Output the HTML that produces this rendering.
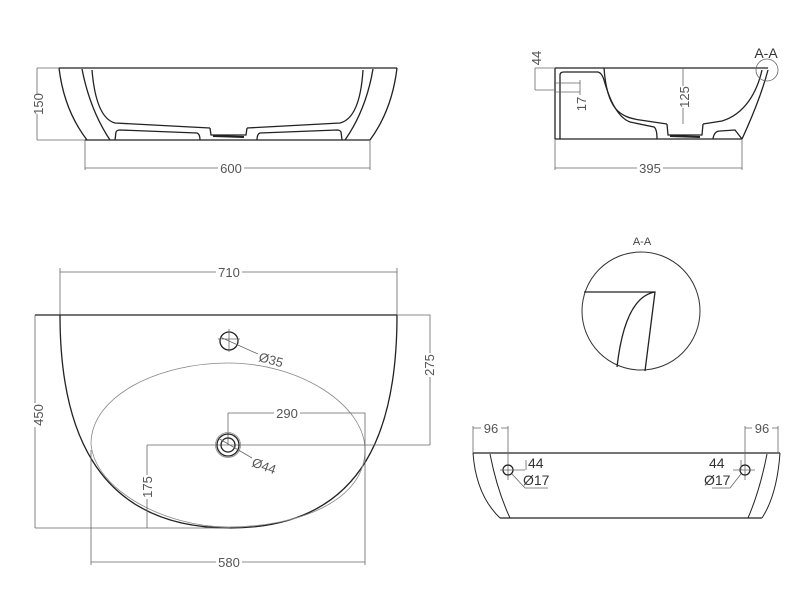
<!DOCTYPE html>
<html><head><meta charset="utf-8"><style>
html,body{margin:0;padding:0;background:#fff;width:799px;height:600px;overflow:hidden}
svg{display:block}
text{font-family:"Liberation Sans Narrow","Liberation Sans",sans-serif;font-size:13px;fill:#555}
.k{stroke:#222;stroke-width:1.3;fill:none}
.d{stroke:#666;stroke-width:0.8;fill:none}
.t{stroke:#888;stroke-width:0.8;fill:none}
</style></head><body>
<svg width="799" height="600" viewBox="0 0 799 600">
<!-- Top-left side view -->
<line class="k" x1="59" y1="68" x2="397" y2="68"/>
<line class="k" x1="85" y1="140" x2="370" y2="140"/>
<path class="k" d="M59,68 Q64,110 87,140"/>
<path class="k" d="M82,69 Q90,110 110,140"/>
<path class="k" d="M92,70 Q96,118 115,123 L210,128 M247,128 L340,123 Q360,118 363,70"/>
<path class="k" d="M210,128 L211,135 L246,135 L247,128"/>
<path class="k" d="M213,136 L244,137" style="stroke-width:2"/>
<path class="k" d="M115,140 L116,132 Q117,130 120,130 L197,133 Q200,134 200,140"/>
<path class="k" d="M257,140 Q257,134 260,133 L337,130 Q340,130 341,132 L342,140"/>
<path class="k" d="M397,68 Q392,110 370,140"/>
<path class="k" d="M373,69 Q366,110 345,140"/>
<path class="d" d="M37,68 H59 M37,140 H85 M37,68 V140 M85,140 V170 M370,140 V170 M85,168 H370"/>
<rect x="218" y="161" width="26" height="13" fill="#fff"/>
<text x="231" y="173" text-anchor="middle">600</text>
<rect x="33" y="94" width="10" height="20" fill="#fff"/>
<text transform="translate(43,104) rotate(-90)" text-anchor="middle">150</text>

<!-- Top-right section -->
<line class="k" x1="555" y1="68" x2="768" y2="68"/>
<line class="k" x1="555" y1="139" x2="742" y2="139"/>
<line class="k" x1="555" y1="68" x2="555" y2="139"/>
<path class="k" d="M560,139 V75 Q560,72 564,72 L598,72 Q602,73 604,80 Q614,116 630,122 L654,127 Q657,129 657,139"/>
<path class="k" d="M604,68 C607,110 620,117 640,120 L667,124 M703,124 L722,121 C745,114 757,92 762,70"/>
<path class="k" d="M667,124 L668,135 L702,135 L703,124"/>
<path class="k" d="M670,136 L700,137" style="stroke-width:2"/>
<path class="k" d="M713,139 Q714,131 720,131 L735,130 L742,139"/>
<path class="k" d="M768,70 Q760,100 742,139"/>
<circle cx="767" cy="70" r="11" class="d"/>
<text x="766" y="58" text-anchor="middle" style="font-size:14px;fill:#333">A-A</text>
<path class="d" d="M535,68 H555 M535,90 H555 M535,68 V90 M555,83 H580 M555,92 H580 M580,80 V95"/>
<text transform="translate(541,58) rotate(-90)" text-anchor="middle">44</text>
<text transform="translate(586,104) rotate(-90)" text-anchor="middle">17</text>
<path class="d" d="M683,68 V124"/>
<rect x="678" y="86" width="12" height="22" fill="#fff"/>
<text transform="translate(689,97) rotate(-90)" text-anchor="middle">125</text>
<path class="d" d="M555,139 V170 M742,139 V170 M555,168 H742"/>
<rect x="637" y="161" width="26" height="13" fill="#fff"/>
<text x="650" y="173" text-anchor="middle">395</text>

<!-- Plan view -->
<path class="d" d="M60,315 V268 M397,315 V268 M60,272 H397"/>
<rect x="216" y="265" width="26" height="13" fill="#fff"/>
<text x="229" y="277" text-anchor="middle">710</text>
<line class="k" x1="35" y1="315" x2="397" y2="315"/>
<path class="k" d="M60,315 C60,420 90,528 230,528 C370,528 397,420 397,315"/>
<path class="t" d="M91,444 C91,395 160,363 228,363 C300,363 365,405 365,450 C365,500 300,527 228,527 C165,527 95,490 91,444 Z"/>
<path class="d" d="M35,315 V528 M35,528 H230 M397,315 H430 V445 M147,445 H430 M147,445 V528 M228,413 V445 M228,413 H365 V528 M91,450 V565 M365,500 V565 M91,562 H365"/>
<rect x="33" y="403" width="12" height="24" fill="#fff"/>
<text transform="translate(43,415) rotate(-90)" text-anchor="middle">450</text>
<rect x="424" y="353" width="12" height="24" fill="#fff"/>
<text transform="translate(434,365) rotate(-90)" text-anchor="middle">275</text>
<rect x="142" y="475" width="12" height="24" fill="#fff"/>
<text transform="translate(152,487) rotate(-90)" text-anchor="middle">175</text>
<rect x="274" y="406" width="26" height="13" fill="#fff"/>
<text x="287" y="418" text-anchor="middle">290</text>
<rect x="216" y="555" width="26" height="13" fill="#fff"/>
<text x="229" y="567" text-anchor="middle">580</text>
<circle cx="229" cy="341" r="9" class="k"/>
<path class="d" d="M229,329 V352 M218,339 H240 M220,337 L258,354"/>
<text x="258" y="361" transform="rotate(15 258 361)">Ø35</text>
<circle cx="228" cy="445" r="12.5" class="t"/>
<circle cx="228" cy="445" r="11" class="k"/>
<circle cx="228" cy="445" r="7" class="k"/>
<path class="d" d="M218,438 L252,458"/>
<text x="251" y="466" transform="rotate(20 251 466)">Ø44</text>

<!-- A-A detail -->
<text x="642" y="245" text-anchor="middle" style="font-size:11px;fill:#444">A-A</text>
<circle cx="641" cy="311" r="59" fill="none" stroke="#333" stroke-width="1"/>
<path class="k" d="M584,292 H655 L645,371 M655,292 Q625,297 617,367"/>

<!-- Front view -->
<line class="k" x1="473" y1="453" x2="780" y2="453"/>
<line class="k" x1="500" y1="518" x2="762" y2="518"/>
<path class="k" d="M473,453 Q476,495 500,518 M490,454 Q497,490 510,518 M780,453 Q777,495 762,518 M767,454 Q760,490 748,518" style="stroke-width:1"/>
<path class="d" d="M473,453 V426 M508,426 V480 M473,428 H508 M745,426 V480 M778,426 V453 M745,428 H778"/>
<rect x="481" y="421" width="20" height="12" fill="#fff"/>
<text x="491" y="433" text-anchor="middle">96</text>
<rect x="752" y="421" width="20" height="12" fill="#fff"/>
<text x="762" y="433" text-anchor="middle">96</text>
<circle cx="508" cy="470" r="5" class="k"/>
<circle cx="745" cy="470" r="5" class="k"/>
<path class="d" d="M500,470 H525 M526,460 V470 M512,474 L525,488 H548 M733,470 H755 M741,460 V470 M741,474 L730,488 H712"/>
<text x="528" y="468" style="fill:#333;font-size:14px">44</text>
<text x="523" y="485" style="fill:#333;font-size:14px">Ø17</text>
<text x="709" y="468" style="fill:#333;font-size:14px">44</text>
<text x="704" y="485" style="fill:#333;font-size:14px">Ø17</text>
</svg>
</body></html>
